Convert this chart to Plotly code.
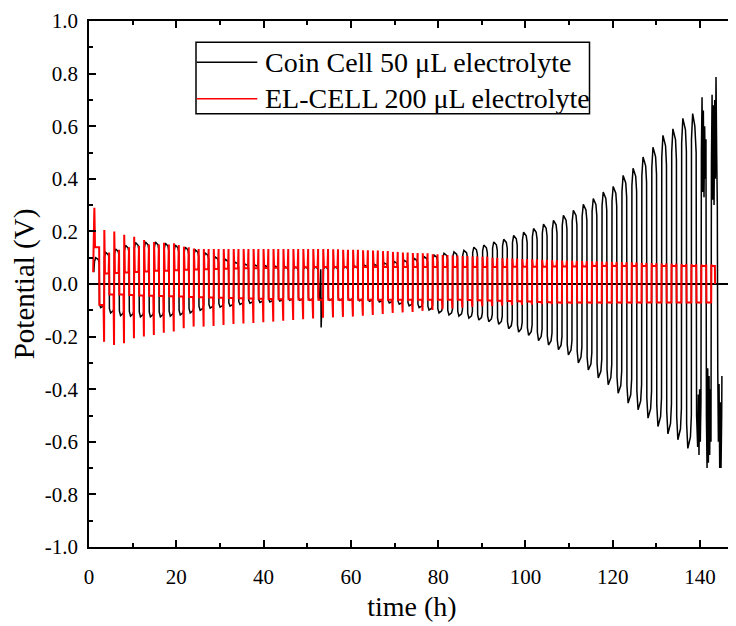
import plotly.graph_objects as go

# ---------------- data ----------------
CYCLE_START = 1.23      # h, start of first charge half-cycle
CYCLE_PERIOD = 2.28     # h, one full plating/stripping cycle

# Coin cell (black): per-cycle positive peak and negative trough (V)
coin_pos = [0.10, 0.12, 0.133, 0.147, 0.158, 0.16, 0.16, 0.155, 0.148, 0.14,
            0.13, 0.118, 0.103, 0.094, 0.083, 0.076, 0.072, 0.07, 0.068, 0.066,
            0.065, 0.065, 0.065, 0.065, 0.065, 0.066, 0.068, 0.071, 0.075, 0.08,
            0.085, 0.09, 0.097, 0.104, 0.11, 0.117, 0.122, 0.128, 0.14, 0.148,
            0.16, 0.17, 0.185, 0.197, 0.211, 0.228, 0.242, 0.261, 0.28, 0.303,
            0.325, 0.35, 0.371, 0.413, 0.44, 0.483, 0.52, 0.565, 0.59, 0.63]
coin_neg = [-0.09, -0.11, -0.12, -0.122, -0.125, -0.125, -0.125, -0.122, -0.118, -0.11,
            -0.10, -0.092, -0.088, -0.084, -0.078, -0.073, -0.07, -0.068, -0.065, -0.062,
            -0.062, -0.062, -0.062, -0.062, -0.062, -0.062, -0.064, -0.066, -0.068, -0.072,
            -0.077, -0.083, -0.09, -0.099, -0.11, -0.118, -0.122, -0.13, -0.137, -0.143,
            -0.153, -0.17, -0.183, -0.195, -0.215, -0.232, -0.25, -0.27, -0.3, -0.327,
            -0.357, -0.383, -0.415, -0.453, -0.478, -0.51, -0.542, -0.57, -0.592, -0.625]
coin_start_t = [1.1]
coin_start_v = [0.045]
# isolated glitch near 53 h
coin_glitch_t = [53.10, 53.18, 53.26]
coin_glitch_v = [0.056, -0.165, -0.06]
# unstable end of the coin-cell test
coin_tail_t = [138.03, 138.3, 138.8, 139.1, 139.2, 139.45, 139.6, 139.75, 139.9, 140.05,
               140.2, 140.3, 140.45, 140.6, 140.75, 140.9, 141.05, 141.2, 141.35, 141.45,
               141.6, 141.75, 141.9, 142.05, 142.2, 142.35, 142.5, 142.6, 142.75, 142.9,
               143.05, 143.2, 143.35, 143.5, 143.65, 143.8, 143.95, 144.05, 144.2, 144.35,
               144.5, 144.65, 144.8, 144.95, 145.0]
coin_tail_v = [0.55, 0.648, 0.6, 0.5, -0.5, -0.62, -0.42, -0.65, -0.4, -0.6,
               -0.45, 0.5, 0.71, 0.35, 0.66, 0.33, 0.6, 0.4, 0.55, -0.5,
               -0.7, -0.32, -0.68, -0.35, -0.65, -0.4, -0.6, 0.45, 0.72, 0.32,
               0.68, 0.3, 0.7, 0.4, 0.787, 0.5, 0.3, -0.33, -0.6, -0.38,
               -0.7, -0.45, -0.7, -0.5, -0.35]

# EL-CELL (red): per-cycle start spike, plateau, end leg, negative plateau, negative spike (V)
el_pos_peak = [0.29, 0.205, 0.2, 0.187, 0.18, 0.167, 0.16, 0.157, 0.155, 0.142,
               0.135, 0.133, 0.133, 0.133, 0.133, 0.133, 0.133, 0.133, 0.133, 0.133,
               0.133, 0.133, 0.133, 0.133, 0.132, 0.13, 0.13, 0.128, 0.127, 0.125,
               0.122, 0.12, 0.118, 0.117, 0.113, 0.11, 0.108, 0.106, 0.105, 0.104,
               0.1, 0.098, 0.097, 0.095, 0.094, 0.092, 0.09, 0.089, 0.088, 0.087,
               0.086, 0.085, 0.084, 0.083, 0.082, 0.08, 0.079, 0.078, 0.077, 0.076,
               0.075, 0.074, 0.074]
el_pos_end = [0.14, 0.12, 0.13, 0.14, 0.145, 0.15, 0.15, 0.15, 0.148, 0.14,
              0.133, 0.133, 0.133, 0.133, 0.133, 0.133, 0.133, 0.133, 0.133, 0.133,
              0.133, 0.133, 0.133, 0.133, 0.132, 0.13, 0.13, 0.128, 0.127, 0.125,
              0.122, 0.12, 0.118, 0.117, 0.113, 0.11, 0.108, 0.106, 0.105, 0.104,
              0.1, 0.098, 0.097, 0.095, 0.094, 0.092, 0.09, 0.089, 0.088, 0.087,
              0.086, 0.085, 0.084, 0.083, 0.082, 0.08, 0.079, 0.078, 0.077, 0.076,
              0.075, 0.074, 0.074]
el_pos_plateau = [0.14, 0.04, 0.042, 0.044, 0.046, 0.048, 0.05, 0.05, 0.052, 0.054,
                  0.055, 0.056, 0.057, 0.058, 0.059, 0.06, 0.06, 0.061, 0.062, 0.062,
                  0.063, 0.064, 0.065, 0.065, 0.065, 0.065, 0.065, 0.065, 0.065, 0.065,
                  0.065, 0.065, 0.065, 0.065, 0.065, 0.065, 0.065, 0.065, 0.065, 0.065,
                  0.065, 0.065, 0.066, 0.066, 0.066, 0.066, 0.067, 0.067, 0.067, 0.067,
                  0.068, 0.068, 0.068, 0.068, 0.068, 0.068, 0.068, 0.068, 0.068, 0.068,
                  0.068, 0.068, 0.068]
el_neg_plateau = [-0.08, -0.04, -0.04, -0.042, -0.044, -0.045, -0.046, -0.047, -0.048, -0.049,
                  -0.05, -0.051, -0.052, -0.053, -0.054, -0.055, -0.056, -0.057, -0.058, -0.058,
                  -0.059, -0.06, -0.06, -0.06, -0.06, -0.06, -0.06, -0.06, -0.06, -0.06,
                  -0.06, -0.06, -0.06, -0.06, -0.06, -0.06, -0.06, -0.061, -0.062, -0.063,
                  -0.064, -0.065, -0.066, -0.067, -0.068, -0.069, -0.07, -0.07, -0.07, -0.07,
                  -0.07, -0.07, -0.07, -0.07, -0.07, -0.07, -0.07, -0.07, -0.07, -0.07,
                  -0.07, -0.07, -0.07]
el_neg_peak = [-0.22, -0.232, -0.225, -0.206, -0.2, -0.194, -0.185, -0.181, -0.168, -0.162,
               -0.162, -0.16, -0.156, -0.152, -0.15, -0.148, -0.145, -0.143, -0.14, -0.137,
               -0.134, -0.131, -0.128, -0.127, -0.125, -0.124, -0.121, -0.118, -0.114, -0.11,
               -0.108, -0.106, -0.102, -0.099, -0.096, -0.093, -0.09, -0.087, -0.085, -0.084,
               -0.082, -0.08, -0.079, -0.078, -0.077, -0.077, -0.076, -0.076, -0.075, -0.075,
               -0.075, -0.074, -0.074, -0.074, -0.074, -0.073, -0.073, -0.073, -0.073, -0.073,
               -0.073, -0.073, -0.073]
el_start_t = [0.95]
el_start_v = [0.045]
el_last_half = 0.85     # h, length of the final (partial) charge step
el_end_v = 0.0

x_tick_vals = [0, 20, 40, 60, 80, 100, 120, 140]
y_tick_vals = [-1.0, -0.8, -0.6, -0.4, -0.2, 0.0, 0.2, 0.4, 0.6, 0.8, 1.0]
y_tick_text = ["-1.0", "-0.8", "-0.6", "-0.4", "-0.2", "0.0", "0.2", "0.4", "0.6", "0.8", "1.0"]

name_coin = "Coin Cell 50 \u03bcL electrolyte"
name_el = "EL-CELL 200 \u03bcL electrolyte"

# ---------------- build the step-like voltage traces ----------------
HALF = CYCLE_PERIOD / 2

coin_t, coin_v = list(coin_start_t), list(coin_start_v)
for k, (p, n) in enumerate(zip(coin_pos, coin_neg)):
    t0 = CYCLE_START + k * CYCLE_PERIOD
    for dt, v in [(0.03, 0.85 * p), (0.30, p), (0.90, 0.93 * p), (HALF - 0.03, 0.8 * p),
                  (HALF + 0.03, 0.85 * n), (HALF + 0.30, n), (HALF + 0.90, 0.93 * n),
                  (CYCLE_PERIOD - 0.03, 0.8 * n)]:
        coin_t.append(t0 + dt)
        coin_v.append(v)
pairs = sorted(zip(coin_t + coin_glitch_t, coin_v + coin_glitch_v))
coin_t = [a for a, _ in pairs] + coin_tail_t
coin_v = [b for _, b in pairs] + coin_tail_v

el_t, el_v = list(el_start_t), list(el_start_v)
n_el = len(el_pos_peak)
for k in range(n_el):
    t0 = CYCLE_START + k * CYCLE_PERIOD
    if k < n_el - 1:
        seg = [(0.0, el_pos_peak[k]), (0.15, el_pos_plateau[k]),
               (HALF - 0.16, el_pos_plateau[k]), (HALF - 0.04, el_pos_end[k]),
               (HALF + 0.02, el_neg_plateau[k]), (CYCLE_PERIOD - 0.18, el_neg_plateau[k]),
               (CYCLE_PERIOD - 0.05, el_neg_peak[k])]
    else:
        seg = [(0.0, el_pos_peak[k]), (0.15, el_pos_plateau[k]),
               (el_last_half - 0.05, el_pos_plateau[k]), (el_last_half, el_end_v)]
    for dt, v in seg:
        el_t.append(t0 + dt)
        el_v.append(v)

# ---------------- figure ----------------
FONT = "Liberation Serif, Times New Roman, serif"
fig = go.Figure()
fig.add_trace(go.Scatter(x=coin_t, y=coin_v, mode="lines", name=name_coin,
                         line=dict(color="black", width=1.5), showlegend=False))
fig.add_trace(go.Scatter(x=el_t, y=el_v, mode="lines", name=name_el,
                         line=dict(color="#ff0000", width=2), showlegend=False))

axis_common = dict(showline=True, linecolor="black", linewidth=1.5, mirror="ticks",
                   ticks="inside", ticklen=7, tickwidth=1.5, tickcolor="black",
                   showgrid=False, tickfont=dict(family=FONT, size=21, color="black"),
                   layer="above traces")

fig.update_xaxes(range=[0, 148], tickvals=x_tick_vals, zeroline=False,
                 minor=dict(dtick=10, tick0=0, ticks="inside", ticklen=4, tickwidth=1.5,
                            tickcolor="black", showgrid=False),
                 title=dict(text="time (h)", font=dict(family=FONT, size=28, color="black"),
                            standoff=8),
                 ticklabelstandoff=10, **axis_common)
fig.update_yaxes(range=[-1, 1], tickvals=y_tick_vals, ticktext=y_tick_text,
                 zeroline=True, zerolinecolor="black", zerolinewidth=2,
                 minor=dict(dtick=0.1, tick0=0, ticks="inside", ticklen=4, tickwidth=1.5,
                            tickcolor="black", showgrid=False),
                 title=dict(text="Potential (V)", font=dict(family=FONT, size=29, color="black"),
                            standoff=6),
                 ticklabelstandoff=5, **axis_common)

# legend box drawn in paper coordinates (positions measured in the picture)
L, R, T, B = 89, 735, 20.5, 547
def px(x):
    return (x - L) / (R - L)
def py(y):
    return (B - y) / (B - T)

shapes = [
    dict(type="rect", xref="paper", yref="paper", x0=px(196), x1=px(589.5),
         y0=py(113.3), y1=py(41.7), line=dict(color="black", width=1.5), fillcolor="white",
         layer="above"),
    dict(type="line", xref="paper", yref="paper", x0=px(196.7), x1=px(257.3),
         y0=py(61.7), y1=py(61.7), line=dict(color="black", width=1.5), layer="above"),
    dict(type="line", xref="paper", yref="paper", x0=px(196.7), x1=px(257.3),
         y0=py(98.3), y1=py(98.3), line=dict(color="#ff0000", width=1.5), layer="above"),
]
annotations = [
    dict(text=name_coin, xref="paper", yref="paper", x=px(263), y=py(61.7),
         xanchor="left", yanchor="middle", showarrow=False,
         font=dict(family=FONT, size=28, color="black")),
    dict(text=name_el, xref="paper", yref="paper", x=px(263), y=py(98.3),
         xanchor="left", yanchor="middle", showarrow=False,
         font=dict(family=FONT, size=28, color="black")),
]

# the page body adds an 8 px offset, so the figure is 8 px smaller than the window
fig.update_layout(width=728, height=618, paper_bgcolor="white", plot_bgcolor="white",
                  margin=dict(l=81, r=1, t=12.5, b=79, autoexpand=False),
                  shapes=shapes, annotations=annotations, showlegend=False)

fig.write_html("out.html")
